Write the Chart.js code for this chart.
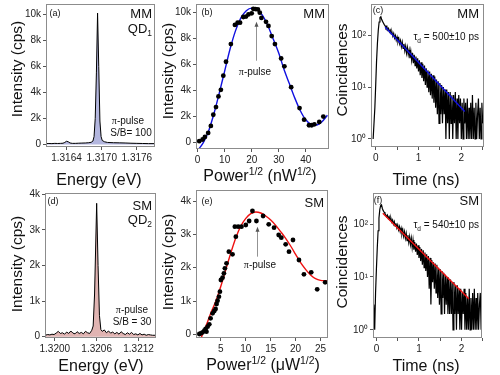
<!DOCTYPE html>
<html>
<head>
<meta charset="utf-8">
<script src="https://cdn.jsdelivr.net/npm/chart.js@4.4.1/dist/chart.umd.min.js"></script>
<style>
  body { margin: 0; width: 500px; height: 375px; background: #fff; position: relative; overflow: hidden;
         font-family: "Liberation Sans", Arial, sans-serif; color: #111; }
  canvas { position: absolute; z-index: 1; }
  .t { position: absolute; white-space: nowrap; line-height: 1; z-index: 2; }
  .c { transform: translate(-50%, -50%); }
  .r { transform: translate(-100%, -50%); }
  .v { transform: translate(-50%, -50%) rotate(-90deg); }
  .ax { font-size: 16px; }
  .ay { font-size: 15.5px; }
  .lb { font-size: 9px; }
  .md { font-size: 13px; }
  .sm { font-size: 10px; }
  sup, sub { font-size: 0.65em; line-height: 0; }
  .pi { font-family: "Liberation Serif", serif; }
</style>
</head>
<body>

<!-- axis titles -->
<div class="t v ay" style="left:17px;top:69px">Intensity (cps)</div>
<div class="t c ax" style="left:99px;top:180px">Energy (eV)</div>
<div class="t v ay" style="left:168px;top:71px">Intensity (cps)</div>
<div class="t c ax" style="left:260px;top:176px">Power<sup>1/2</sup> (nW<sup>1/2</sup>)</div>
<div class="t v ay" style="left:342px;top:70px">Coincidences</div>
<div class="t c ax" style="left:426px;top:180px">Time (ns)</div>

<div class="t v ay" style="left:17px;top:264px">Intensity (cps)</div>
<div class="t c ax" style="left:101px;top:366px">Energy (eV)</div>
<div class="t v ay" style="left:168px;top:262px">Intensity (cps)</div>
<div class="t c ax" style="left:263px;top:365px">Power<sup>1/2</sup> (&mu;W<sup>1/2</sup>)</div>
<div class="t v ay" style="left:342px;top:262px">Coincidences</div>
<div class="t c ax" style="left:426px;top:366px">Time (ns)</div>

<!-- panel texts -->
<div class="t c lb" style="left:55px;top:13px">(a)</div>
<div class="t r md" style="left:152px;top:13px">MM</div>
<div class="t r md" style="left:152px;top:28px">QD<sub>1</sub></div>
<div class="t c sm" style="left:128px;top:121px"><span class="pi">&pi;</span>-pulse</div>
<div class="t c sm" style="left:131px;top:133px">S/B= 100</div>

<div class="t c lb" style="left:207px;top:12px">(b)</div>
<div class="t r md" style="left:325px;top:13px">MM</div>
<div class="t c sm" style="left:255px;top:72px"><span class="pi">&pi;</span>-pulse</div>

<div class="t c lb" style="left:378px;top:10px">(c)</div>
<div class="t r md" style="left:479px;top:13px">MM</div>
<div class="t r sm" style="left:479px;top:37px">&tau;<sub>d</sub> = 500&plusmn;10 ps</div>

<div class="t c lb" style="left:53px;top:201px">(d)</div>
<div class="t r md" style="left:152px;top:205px">SM</div>
<div class="t r md" style="left:152px;top:219px">QD<sub>2</sub></div>
<div class="t c sm" style="left:132px;top:310px"><span class="pi">&pi;</span>-pulse</div>
<div class="t c sm" style="left:132px;top:322px">S/B = 30</div>

<div class="t c lb" style="left:207px;top:201px">(e)</div>
<div class="t r md" style="left:324px;top:202px">SM</div>
<div class="t c sm" style="left:260px;top:265px"><span class="pi">&pi;</span>-pulse</div>

<div class="t c lb" style="left:378px;top:200px">(f)</div>
<div class="t r md" style="left:479px;top:200px">SM</div>
<div class="t r sm" style="left:479px;top:225px">&tau;<sub>d</sub> = 540&plusmn;10 ps</div>

<script>
// --- data ---
// (a) MM spectrum, QD1
const specA_E = [1.31605,1.31610,1.31615,1.31620,1.31625,1.31630,1.31634,1.31637,1.31640,1.31643,
  1.31646,1.31650,1.31655,1.31660,1.31665,1.31672,1.31678,1.31682,1.31685,1.31687,
  1.31689,1.31691,1.31693,1.31695,1.31697,1.31699,1.31701,1.31705,1.31710,1.31720,
  1.31730,1.31740,1.31750,1.31760,1.31770,1.31780,1.31791];
const specA_I = [60,70,60,80,70,80,90,150,240,200,
  110,80,80,90,100,110,130,160,250,600,
  2000,5500,10100,6000,1800,600,300,200,150,130,
  120,110,90,80,70,60,60];

// (d) SM spectrum, QD2
const specD_E = [1.31986,1.31990,1.31993,1.31996,1.31999,1.32002,1.32005,1.32008,1.32011,1.32014,
  1.32017,1.32020,1.32023,1.32026,1.32029,1.32032,1.32035,1.32038,1.32041,1.32044,
  1.32047,1.32050,1.32053,1.32055,1.32057,1.32060,1.32062,1.32064,1.32066,1.32068,
  1.32071,1.32074,1.32077,1.32080,1.32083,1.32086,1.32089,1.32092,1.32095,1.32098,
  1.32101,1.32104,1.32107,1.32110,1.32113,1.32116,1.32119,1.32122,1.32125,1.32128,
  1.32131,1.32134,1.32137,1.32140,1.32145];
const specD_I = [40,60,50,70,60,100,150,90,110,70,
  130,90,160,100,80,140,90,120,80,150,
  110,90,180,300,1200,3750,2000,600,200,150,
  190,110,160,100,130,80,120,70,140,90,
  60,110,70,120,60,80,50,90,50,70,
  40,60,50,40,40];

// (b) Rabi, MM
const powB_x = [0.6,1.85,2.7,3.9,4.9,5.8,6.8,7.7,8.6,9.5,10.5,12.3,13.8,14.8,15.7,16.9,17.9,18.8,20.0,20.6,
  21.4,22.3,23.0,23.6,25.3,26.2,27.4,28.6,30.9,32.1,34.6,37.7,39.4,41.2,42.2,43.2,45.0,46.5];
const powB_y = [100,230,430,740,1280,2140,2730,3550,4060,5150,6220,7580,9060,9230,9230,9670,9700,9870,9950,10300,
  10280,10250,10000,9600,9300,8980,8200,7580,6480,5870,4260,2650,1760,1330,1330,1400,1580,2000];
const fitB_x = [0,2,4,6,8,10,12,14,16,18,20,22,24,26,28,30,32,34,36,38,40,42,44,46,48];
const fitB_y = [-600,-50,850,2200,3800,5500,7200,8600,9600,10150,10350,10250,9800,9000,7950,6900,5600,4500,3400,2450,1750,1400,1350,1600,2100];

// (e) Rabi, SM
const powE_x = [0.67,1.0,1.33,1.67,1.93,2.1,2.33,2.67,2.93,3.33,3.67,3.93,4.13,4.33,4.6,4.8,5.0,5.33,5.6,5.8,
  6.13,6.6,7.33,7.8,8.0,8.47,9.13,10.0,10.67,11.33,12.13,13.47,14.6,15.67,16.6,17.13,18.0,18.67,19.47,20.67,
  21.67,23.13,24.33,25.93];
const powE_y = [10,30,60,110,160,80,230,300,480,630,700,760,910,1010,1130,1280,1630,1700,1830,1980,
  2130,2480,2400,3230,2930,3230,3230,3280,3400,3700,3400,3550,3300,3200,2980,2900,2700,2480,2830,2230,
  1800,1860,1350,1560];
const fitE_x = [0.9,2,3,4,5,6,7,8,9,10,11,12,13,14,15,16,17,18,19,20,21,22,23,24,25,26,26.8];
const fitE_y = [-150,250,650,1000,1450,1950,2450,2900,3250,3480,3620,3670,3640,3550,3430,3270,3080,2880,2650,2400,2150,1950,1780,1670,1620,1610,1600];

// (c), (f) lifetime histograms
const decayT = [-0.06,-0.04,-0.02,0.00,0.02,0.04,0.06,0.08,0.10,0.12,
  0.14,0.16,0.18,0.20,0.22,0.24,0.26,0.28,0.30,0.32,
  0.34,0.36,0.38,0.40,0.42,0.44,0.46,0.48,0.50,0.52,
  0.54,0.56,0.58,0.60,0.62,0.64,0.66,0.68,0.70,0.72,
  0.74,0.76,0.78,0.80,0.82,0.84,0.86,0.88,0.90,0.92,
  0.94,0.96,0.98,1.00,1.02,1.04,1.06,1.08,1.10,1.12,
  1.14,1.16,1.18,1.20,1.22,1.24,1.26,1.28,1.30,1.32,
  1.34,1.36,1.38,1.40,1.42,1.44,1.46,1.48,1.50,1.52,
  1.54,1.56,1.58,1.60,1.62,1.64,1.66,1.68,1.70,1.72,
  1.74,1.76,1.78,1.80,1.82,1.84,1.86,1.88,1.90,1.92,
  1.94,1.96,1.98,2.00,2.02,2.04,2.06,2.08,2.10,2.12,
  2.14,2.16,2.18,2.20,2.22,2.24,2.26,2.28,2.30,2.32,
  2.34,2.36,2.38,2.40,2.42,2.44,2.46,2.48,2.50];
const decayMM = [1,1,4,11,32,70,125,180,218,228,
  200,185,172,160,152,138,148,126,135,116,
  126,106,114,96,108,88,99,80,92,74,
  86,68,79,60,74,56,68,50,62,45,
  58,42,52,36,49,33,46,29,42,26,
  39,23,36,20,33,17,30,15,28,13,
  26,11,23,10,21,8,20,7,18,6,
  17,5,16,4,14,3,13,2,12,3,
  11,2,10,3,9,1,9,2,8,1,
  8,2,7,1,7,2,8,1,6,1,
  7,2,6,1,5,1,6,2,5,1,
  6,1,4,1,5,1,7,1,4,1,
  5,1,3,6,1,4,1,5,2];
const decaySM = [3,1,5,14,35,75,130,190,225,232,
  198,180,170,158,150,138,148,128,138,119,
  129,110,120,100,112,92,104,85,97,78,
  90,72,84,65,78,59,72,54,67,49,
  62,45,58,41,54,36,50,33,46,30,
  43,26,40,23,37,20,34,17,32,15,
  29,13,27,10,25,6,23,3,21,8,
  19,6,18,5,17,4,15,3,14,2,
  13,4,12,2,11,3,10,2,9,2,
  9,2,8,1,8,2,7,1,7,2,
  6,1,6,1,5,2,6,1,5,1,
  4,1,6,1,4,1,5,1,6,1,
  4,1,5,1,3,5,1,4,1];
const fitC_t = [0.22, 2.08];
const fitC_y = [144, 3.4];
const fitF_t = [0.15, 2.17];
const fitF_y = [161, 3.87];

// tick labels
const ticksA_x = [1.3164, 1.3170, 1.3176];
const ticksD_x = [1.3200, 1.3206, 1.3212];
const ticksB_x = [0, 10, 20, 30, 40];
const ticksE_x = [5, 10, 15, 20, 25];
const ticksT = [0, 0.5, 1, 1.5, 2, 2.5];
const ticks10k = [0, 2000, 4000, 6000, 8000, 10000];
const ticks4k = [0, 1000, 2000, 3000, 4000];
const ticksLog = [1, 10, 100];
const logLabels = { 1: '10\u2070', 10: '10\u00b9', 100: '10\u00b2' };

// --- drawing ---
Chart.defaults.font.family = "'Liberation Sans', Arial, sans-serif";
const PADL = 44, PADT = 6, PADR = 6, PADB = 24;

const pts = (xs, ys) => xs.map((x, i) => ({ x: x, y: ys[i] }));
const kFmt = v => v === 0 ? '0' : (v / 1000) + 'k';

const frame = {
  id: 'frame',
  afterDraw(c) {
    const a = c.chartArea, g = c.ctx;
    g.save(); g.strokeStyle = '#8c8c8c'; g.lineWidth = 1;
    g.strokeRect(Math.round(a.left) + 0.5, Math.round(a.top) + 0.5, Math.round(a.right - a.left) - 1, Math.round(a.bottom - a.top) - 1);
    g.restore();
  }
};

function arrowAt(x, y0, y1) {
  return {
    id: 'arrow',
    afterDatasetsDraw(c) {
      const X = Math.round(c.scales.x.getPixelForValue(x)) + 0.5;
      const Y0 = c.scales.y.getPixelForValue(y0), Y1 = c.scales.y.getPixelForValue(y1);
      const g = c.ctx;
      g.save(); g.strokeStyle = '#777'; g.lineWidth = 0.8;
      g.beginPath(); g.moveTo(X, Y0); g.lineTo(X, Y1 + 3); g.stroke();
      g.fillStyle = '#555'; g.beginPath();
      g.moveTo(X, Y1); g.lineTo(X - 2, Y1 + 5); g.lineTo(X + 2, Y1 + 5); g.closePath(); g.fill();
      g.restore();
    }
  };
}

function axis(o, dir) {
  return {
    type: o.type || 'linear', min: o.min, max: o.max,
    afterBuildTicks: s => { s.ticks = o.ticks.map(v => ({ value: v })); },
    afterFit: s => {
      if (dir === 'x') { s.height = PADB; s.paddingLeft = 0; s.paddingRight = 0; }
      else { s.width = PADL; s.paddingTop = 0; s.paddingBottom = 0; }
    },
    ticks: { callback: o.fmt, autoSkip: false, maxRotation: 0, minRotation: 0, padding: 2,
             color: '#222', font: { size: 10 } },
    grid: { drawOnChartArea: false, drawTicks: true, tickLength: 3, color: '#555', lineWidth: 1 },
    border: { display: false }
  };
}

function panel(box, datasets, xo, yo, extra) {
  const [L, T, R, B] = box;
  const cv = document.createElement('canvas');
  cv.width = R - L + PADL + PADR; cv.height = B - T + PADT + PADB;
  cv.style.left = (L - PADL) + 'px'; cv.style.top = (T - PADT) + 'px';
  document.body.appendChild(cv);
  return new Chart(cv, {
    type: 'line',
    data: { datasets: datasets },
    options: {
      animation: false, responsive: false, devicePixelRatio: 1,
      layout: { padding: { left: 0, top: PADT, right: PADR, bottom: 0 } },
      plugins: { legend: { display: false }, tooltip: { enabled: false } },
      scales: { x: axis(xo, 'x'), y: axis(yo, 'y') }
    },
    plugins: [frame].concat(extra || [])
  });
}

// lower "order" is drawn on top
const specSet = (xs, ys, fillCol) => ({ data: pts(xs, ys), borderColor: '#000', borderWidth: 1, pointRadius: 0,
  fill: 'origin', backgroundColor: fillCol, tension: 0 });
const dotSet = (xs, ys) => ({ data: pts(xs, ys), showLine: false, pointRadius: 2.4, pointBackgroundColor: '#000',
  pointBorderWidth: 0, borderColor: '#000', order: 1 });
const fitSet = (xs, ys, col, ord) => ({ data: pts(xs, ys), borderColor: col, borderWidth: 1.4, pointRadius: 0,
  cubicInterpolationMode: 'monotone', fill: false, order: ord });
const traceSet = (xs, ys) => ({ data: pts(xs, ys), borderColor: '#000', borderWidth: 1.2, pointRadius: 0,
  tension: 0, order: 2 });

// (a)
panel([46, 4, 155, 147], [specSet(specA_E, specA_I, '#b3b6de')],
  { min: 1.31605, max: 1.31791, ticks: ticksA_x, fmt: v => v.toFixed(4) },
  { min: -200, max: 10800, ticks: ticks10k, fmt: kFmt });
// (b)
panel([196, 4, 329, 149], [fitSet(fitB_x, fitB_y, '#1010e0', 2), dotSet(powB_x, powB_y)],
  { min: -0.6, max: 48.6, ticks: ticksB_x, fmt: v => String(v) },
  { min: -500, max: 10670, ticks: ticks10k, fmt: kFmt }, [arrowAt(21.6, 6300, 9300)]);
// (c)
panel([371, 4, 484, 147], [traceSet(decayT, decayMM), fitSet(fitC_t, fitC_y, '#1010e0', 1)],
  { min: -0.11, max: 2.53, ticks: ticksT, fmt: v => Number.isInteger(v) ? String(v) : '' },
  { type: 'logarithmic', min: 0.7, max: 400, ticks: ticksLog, fmt: v => logLabels[v] || '' });
// (d)
panel([45, 193, 156, 338], [specSet(specD_E, specD_I, '#e0b4b2')],
  { min: 1.31986, max: 1.32145, ticks: ticksD_x, fmt: v => v.toFixed(4) },
  { min: -37, max: 4040, ticks: ticks4k, fmt: kFmt });
// (e)
panel([196, 190, 328, 338], [fitSet(fitE_x, fitE_y, '#ee1010', 2), dotSet(powE_x, powE_y)],
  { min: 0, max: 26.5, ticks: ticksE_x, fmt: v => String(v) },
  { min: -110, max: 4330, ticks: ticks4k, fmt: kFmt }, [arrowAt(12.2, 2330, 3230)]);
// (f)
panel([373, 193, 482, 338], [traceSet(decayT, decaySM), fitSet(fitF_t, fitF_y, '#ee1010', 1)],
  { min: -0.08, max: 2.48, ticks: ticksT, fmt: v => Number.isInteger(v) ? String(v) : '' },
  { type: 'logarithmic', min: 0.716, max: 389, ticks: ticksLog, fmt: v => logLabels[v] || '' });
</script>
</body>
</html>
